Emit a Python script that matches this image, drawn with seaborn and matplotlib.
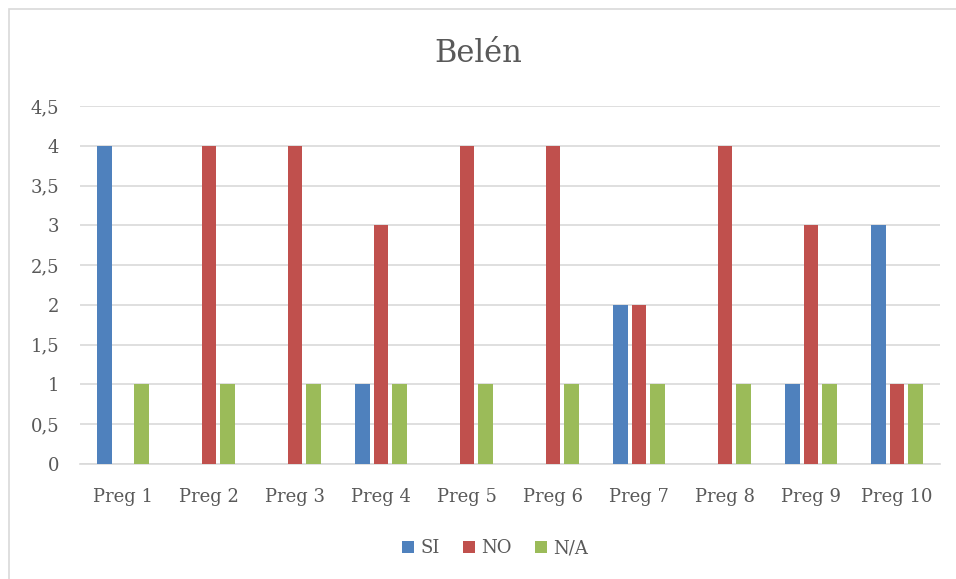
import matplotlib
matplotlib.use("Agg")
import matplotlib.pyplot as plt
import seaborn as sns
import pandas as pd
from matplotlib.patches import Rectangle
from matplotlib.ticker import FuncFormatter, MultipleLocator

categories = ["Preg 1", "Preg 2", "Preg 3", "Preg 4", "Preg 5",
              "Preg 6", "Preg 7", "Preg 8", "Preg 9", "Preg 10"]
series_names = ["SI", "NO", "N/A"]
si_values = [4, 0, 0, 1, 0, 0, 2, 0, 1, 3]
no_values = [0, 4, 4, 3, 4, 4, 2, 4, 3, 1]
na_values = [1, 1, 1, 1, 1, 1, 1, 1, 1, 1]
colors = ["#4F81BD", "#C0504D", "#9BBB59"]

rows = []
for name, vals in zip(series_names, [si_values, no_values, na_values]):
    for c, v in zip(categories, vals):
        rows.append({"Pregunta": c, "Serie": name, "Valor": v})
df = pd.DataFrame(rows)

sns.set_theme(style="white")
plt.rcParams["font.family"] = ["DejaVu Serif", "Liberation Serif"]

W, H = 956, 579
fig = plt.figure(figsize=(W / 100, H / 100), dpi=100)
ax = fig.add_axes([80 / W, 1 - 464 / H, (940 - 80) / W, (464 - 106) / H])

sns.barplot(data=df, x="Pregunta", y="Valor", hue="Serie", hue_order=series_names,
            palette=colors, width=0.66, gap=0.21, ax=ax, saturation=1,
            linewidth=0, edgecolor="none", legend=True, zorder=3)

ax.set_ylim(0, 4.5)
ax.set_xlim(-0.5, len(categories) - 0.5)
ax.yaxis.set_major_locator(MultipleLocator(0.5))
ax.yaxis.set_major_formatter(FuncFormatter(lambda v, p: f"{v:g}".replace(".", ",")))
ax.grid(axis="y", color="#D9D9D9", linewidth=1.2, zorder=0)
ax.set_axisbelow(True)
for s in ["top", "right", "left"]:
    ax.spines[s].set_visible(False)
ax.spines["bottom"].set_color("#D9D9D9")
ax.spines["bottom"].set_linewidth(1.2)
ax.set_xlabel("")
ax.set_ylabel("")
ax.tick_params(axis="both", length=0, labelsize=13, labelcolor="#595959")
ax.tick_params(axis="y", pad=15)
ax.tick_params(axis="x", pad=17)

leg = ax.legend(loc="center", bbox_to_anchor=(0.483, -0.235), ncol=3, frameon=False,
                fontsize=13, handlelength=0.65, handleheight=0.65,
                handletextpad=0.35, columnspacing=1.3, labelcolor="#595959")

fig.text(0.5, 1 - 53 / H, "Belén", ha="center", va="center",
         fontsize=22, color="#595959")

fig.patches.append(Rectangle((9 / W, -0.1), 1.2, 1 - 9 / H + 0.1,
                             transform=fig.transFigure, fill=False,
                             edgecolor="#D9D9D9", linewidth=1.2))

fig.savefig("out.png", dpi=100)
